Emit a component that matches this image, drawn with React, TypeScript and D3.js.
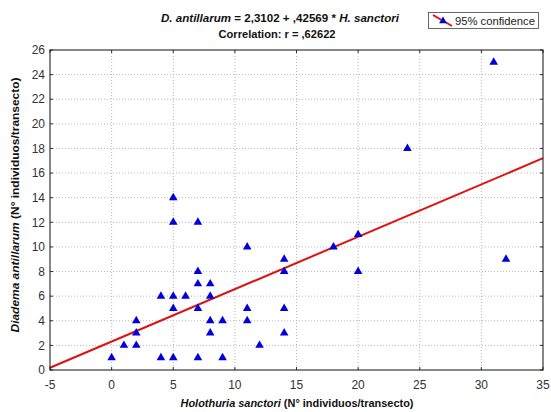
import React from "react";
import * as d3 from "d3";

const xs = [0, 1, 2, 2, 2, 4, 4, 5, 5, 5, 5, 5, 6, 7, 7, 7, 7, 7, 8, 8, 8, 8, 9, 9, 11, 11, 11, 12, 14, 14, 14, 14, 18, 20, 20, 24, 31, 32];
const ys = [1, 2, 2, 3, 4, 1, 6, 1, 5, 6, 12, 14, 6, 1, 5, 7, 8, 12, 3, 4, 6, 7, 1, 4, 4, 5, 10, 2, 3, 5, 8, 9, 10, 8, 11, 18, 25, 9];
const intercept = 2.3102;
const slope = 0.42569;
const xTicks = [-5, 0, 5, 10, 15, 20, 25, 30, 35];
const yTicks = [0, 2, 4, 6, 8, 10, 12, 14, 16, 18, 20, 22, 24, 26];

const W = 551, H = 412;
const L = 50, R = 543, T = 50, B = 370;

export default function App() {
  const x = d3.scaleLinear().domain([-5, 35]).range([L, R]);
  const y = d3.scaleLinear().domain([0, 26]).range([B, T]);
  const tri = d3.symbol(d3.symbolTriangle, 32)() as string;
  const triSmall = d3.symbol(d3.symbolTriangle, 26)() as string;
  const font = "Arial, 'Liberation Sans', sans-serif";
  const line = d3.line<number>().x((d) => x(d)).y((d) => y(intercept + slope * d));
  return (
    <svg width={W} height={H} style={{ position: "absolute", left: 0, top: 0, background: "#fff" }} fontFamily={font}>
      <rect width={W} height={H} fill="#fff" />
      {/* grid */}
      {yTicks.slice(1, -1).map((t) => (
        <line key={"gy" + t} x1={L} x2={R} y1={y(t)} y2={y(t)} stroke="#b8b8b8" strokeDasharray="1,2" />
      ))}
      {xTicks.slice(1, -1).map((t) => (
        <line key={"gx" + t} y1={T} y2={B} x1={x(t)} x2={x(t)} stroke="#b8b8b8" strokeDasharray="1,2" />
      ))}
      {/* inward ticks */}
      {yTicks.map((t) => (
        <g key={"ty" + t}>
          <line x1={L} x2={L + 3} y1={y(t)} y2={y(t)} stroke="#333" />
          <line x1={R - 3} x2={R} y1={y(t)} y2={y(t)} stroke="#333" />
        </g>
      ))}
      {xTicks.map((t) => (
        <g key={"tx" + t}>
          <line y1={B - 3} y2={B} x1={x(t)} x2={x(t)} stroke="#333" />
          <line y1={T} y2={T + 3} x1={x(t)} x2={x(t)} stroke="#333" />
        </g>
      ))}
      {/* regression line */}
      <path d={line([-5, 35]) || ""} stroke="#dd1111" strokeWidth={2} fill="none" />
      {/* points */}
      {xs.map((v, i) => (
        <path key={"p" + i} d={tri} transform={`translate(${x(v)},${y(ys[i])})`} fill="#0000dd" />
      ))}
      {/* frame */}
      <rect x={L} y={T} width={R - L} height={B - T} fill="none" stroke="#111" strokeWidth={1} />
      {/* tick labels */}
      {yTicks.map((t) => (
        <text key={"ly" + t} x={45} y={y(t)} dy="0.35em" textAnchor="end" fontSize={12} fill="#333">
          {t}
        </text>
      ))}
      {xTicks.map((t) => (
        <text key={"lx" + t} x={x(t)} y={389} textAnchor="middle" fontSize={12} fill="#333">
          {t}
        </text>
      ))}
      {/* titles */}
      <text x={280} y={22} textAnchor="middle" fontSize={11} fontWeight="bold" fill="#111" textLength={238} lengthAdjust="spacingAndGlyphs">
        <tspan fontStyle="italic">D. antillarum</tspan>
        <tspan> = 2,3102 + ,42569 * </tspan>
        <tspan fontStyle="italic">H. sanctori</tspan>
      </text>
      <text x={277} y={38} textAnchor="middle" fontSize={11} fontWeight="bold" fill="#111" textLength={117} lengthAdjust="spacingAndGlyphs">
        Correlation: r = ,62622
      </text>
      <text x={297} y={407} textAnchor="middle" fontSize={11} fontWeight="bold" fill="#111" textLength={233} lengthAdjust="spacingAndGlyphs">
        <tspan fontStyle="italic">Holothuria sanctori</tspan>
        <tspan> (N° individuos/transecto)</tspan>
      </text>
      <text transform="translate(19,205) rotate(-90)" textAnchor="middle" fontSize={11} fontWeight="bold" fill="#111" textLength={255} lengthAdjust="spacingAndGlyphs">
        <tspan fontStyle="italic">Diadema antillarum</tspan>
        <tspan> (N° individuos/transecto)</tspan>
      </text>
      {/* legend */}
      <rect x={428.5} y={12.5} width={110} height={16} fill="#fff" stroke="#444" strokeWidth={0.8} />
      <line x1={433} y1={15} x2={452} y2={26} stroke="#dd1111" strokeWidth={2} />
      <path d={triSmall} transform="translate(443,21)" fill="#0000dd" />
      <text x={455} y={24.5} fontSize={11.5} fill="#222" textLength={80} lengthAdjust="spacingAndGlyphs">95% confidence</text>
    </svg>
  );
}
